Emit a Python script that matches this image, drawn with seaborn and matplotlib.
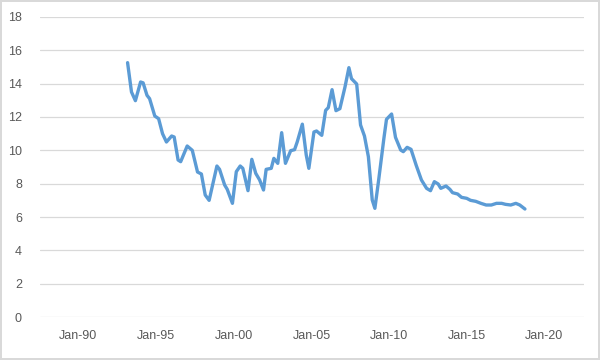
import matplotlib
matplotlib.use("Agg")
import matplotlib.pyplot as plt
import matplotlib.dates as mdates
import pandas as pd
import seaborn as sns

# значения
dates = [
    "1993-03", "1993-06", "1993-09", "1994-01", "1994-03", "1994-06", "1994-08", "1994-12",
    "1995-03", "1995-06", "1995-09", "1996-01", "1996-03", "1996-06", "1996-08", "1997-01",
    "1997-05", "1997-09", "1997-12", "1998-03", "1998-06", "1998-12", "1999-02", "1999-06",
    "1999-08", "1999-12", "2000-03", "2000-06", "2000-08", "2000-12", "2001-03", "2001-06",
    "2001-09", "2001-12", "2002-02", "2002-06", "2002-08", "2002-11", "2003-02", "2003-05",
    "2003-09", "2003-12", "2004-02", "2004-06", "2004-09", "2004-11", "2005-03", "2005-05",
    "2005-09", "2005-12", "2006-02", "2006-05", "2006-08", "2006-11", "2007-03", "2007-06",
    "2007-08", "2007-12", "2008-03", "2008-06", "2008-09", "2008-12", "2009-02", "2009-05",
    "2009-09", "2009-11", "2010-03", "2010-06", "2010-10", "2010-12", "2011-03", "2011-06",
    "2011-10", "2012-02", "2012-06", "2012-09", "2012-12", "2013-03", "2013-05", "2013-09",
    "2013-12", "2014-02", "2014-06", "2014-09", "2015-01", "2015-04", "2015-08", "2015-12",
    "2016-04", "2016-08", "2016-12", "2017-04", "2017-07", "2017-11", "2018-03", "2018-06",
    "2018-10",
]
values = [
    15.26, 13.5, 12.98, 14.1, 14.05, 13.3, 13.1, 12.06,
    11.9, 11.0, 10.5, 10.86, 10.8, 9.42, 9.32, 10.26,
    10.0, 8.7, 8.58, 7.32, 7.0, 9.06, 8.86, 7.92,
    7.66, 6.82, 8.72, 9.06, 8.92, 7.58, 9.46, 8.62,
    8.22, 7.62, 8.86, 8.92, 9.52, 9.22, 11.06, 9.22,
    9.98, 10.04, 10.5, 11.57, 9.72, 8.92, 11.1, 11.16,
    10.9, 12.4, 12.56, 13.64, 12.38, 12.5, 13.8, 14.96,
    14.3, 13.98, 11.52, 10.86, 9.62, 7.02, 6.52, 8.22,
    10.72, 11.86, 12.18, 10.78, 10.02, 9.92, 10.18, 10.06,
    9.1, 8.22, 7.72, 7.58, 8.12, 7.98, 7.72, 7.86,
    7.66, 7.46, 7.38, 7.18, 7.12, 7.0, 6.94, 6.82,
    6.72, 6.72, 6.82, 6.82, 6.76, 6.72, 6.82, 6.72,
    6.48,
]
tick_years = [1990, 1995, 2000, 2005, 2010, 2015, 2020]
y_ticks = list(range(0, 19, 2))

df = pd.DataFrame({"date": pd.to_datetime(dates), "value": values})

sns.set_style("white")
plt.rcParams["font.family"] = ["Liberation Sans", "DejaVu Sans"]

fig = plt.figure(figsize=(6, 3.6), dpi=100)
fig.patch.set_edgecolor("#D9D9D9")
fig.patch.set_linewidth(1.5)
ax = fig.add_axes([0.0667, 0.1194, 0.906, 0.8334])

sns.lineplot(data=df, x="date", y="value", ax=ax, color="#5B9BD5", linewidth=2.4)

ax.set_ylim(0, 18)
ax.set_yticks(y_ticks)
ax.set_xlim(pd.Timestamp("1987-07-12"), pd.Timestamp("2022-07-12"))
ax.set_xticks([pd.Timestamp(f"{y}-01-01") for y in tick_years])
ax.xaxis.set_major_formatter(mdates.DateFormatter("%b-%y"))

ax.grid(axis="y", color="#D9D9D9", linewidth=0.9)
ax.set_axisbelow(True)
for s in ax.spines.values():
    s.set_visible(False)
ax.tick_params(axis="both", length=0, labelsize=9, colors="#595959")
ax.tick_params(axis="y", pad=13)
ax.tick_params(axis="x", pad=9)
ax.set_xlabel("")
ax.set_ylabel("")

fig.savefig("out.png", dpi=100)
